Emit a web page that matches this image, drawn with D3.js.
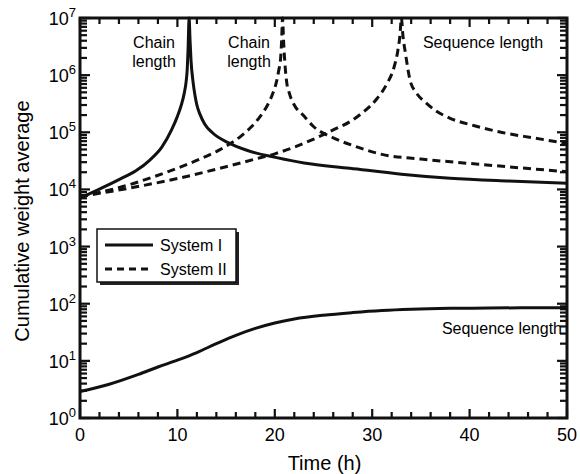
<!DOCTYPE html>
<html>
<head>
<meta charset="utf-8">
<script src="https://cdn.jsdelivr.net/npm/d3@7"></script>
<style>
  body { margin: 0; background: white; }
  svg { display: block; font-family: "Liberation Sans", Arial, sans-serif; }
</style>
</head>
<body>
<div id="chart"></div>
<script>
// [time (h), value]
const chainI = [[0, 7000], [2.2, 10500], [4.2, 15500], [5.7, 21000], [7.2, 33000], [8.4, 55000], [9.4, 110000],
  [10, 190000], [10.4, 300000], [10.7, 480000], [10.9, 780000], [11, 1.2e6], [11.1, 3e6], [11.2, 1e7],
  [11.3, 4e6], [11.4, 1.8e6], [11.6, 780000], [11.8, 450000], [12, 300000], [12.3, 210000], [12.8, 140000],
  [13.6, 98000], [15.2, 66000], [17.2, 48000], [20.2, 36000], [23, 29000], [27.7, 23500], [33, 18500],
  [38, 15700], [44, 14000], [50, 12800]]
const seqI = [[0, 2.9], [3, 3.9], [6, 5.8], [8, 7.8], [10, 10.3], [12, 14], [14, 20], [16, 28], [18, 37],
  [20, 46], [22, 54], [25, 63], [28, 70], [31, 76], [34, 80], [38, 83], [42, 84], [46, 85], [50, 85]]
const chainII = [[0, 7500], [2.5, 9300], [5, 12000], [7.5, 16500], [10, 23500], [12.5, 35000], [14, 46000],
  [15.2, 60000], [16.5, 85000], [17.6, 125000], [18.6, 200000], [19.3, 310000], [19.8, 480000], [20.2, 800000],
  [20.4, 1.2e6], [20.6, 2e6], [20.7, 4e6], [20.8, 1e7], [20.9, 4e6], [21, 2e6], [21.2, 800000], [21.5, 480000],
  [22, 300000], [22.9, 200000], [24, 125000], [26, 80000], [28.5, 55000], [31, 41000], [35, 34000],
  [40, 28500], [45, 24000], [50, 20400]]
const seqII = [[0, 7500], [5, 10500], [10, 15500], [15, 25000], [18, 34000], [20, 42000], [22, 55000],
  [24, 76000], [26, 110000], [27.7, 153000], [29, 220000], [30.5, 390000], [31.5, 700000], [32.2, 1.3e6],
  [32.6, 2.5e6], [32.85, 5e6], [33, 1e7], [33.15, 5e6], [33.4, 2.5e6], [33.9, 800000], [34.5, 500000],
  [35.5, 330000], [36.5, 240000], [38, 176000], [40.5, 130000], [43, 102000], [46.5, 80000], [50, 64000]]

const xTicks = [0, 10, 20, 30, 40, 50]
const yExponents = [0, 1, 2, 3, 4, 5, 6, 7]
const seriesNames = ["System I", "System II"]

const width = 580
const height = 474
const margin = {top: 18, right: 13, bottom: 56, left: 80}
const plotBottom = height - margin.bottom
const plotRight = width - margin.right

const svg = d3.select("#chart").append("svg")
  .attr("width", width)
  .attr("height", height)

const x = d3.scaleLinear().domain([0, 50]).range([margin.left, plotRight])
const y = d3.scaleLog().domain([1, 1e7]).range([plotBottom, margin.top])

const minorX = d3.range(0, 50.01, 2).filter(d => d % 10 !== 0)
const minorY = []
yExponents.slice(0, -1).forEach(e => {
  for (let k = 2; k < 10; k++) minorY.push(k * Math.pow(10, e))
})
const majorY = yExponents.map(e => Math.pow(10, e))

// frame
svg.append("rect")
  .attr("x", margin.left).attr("y", margin.top)
  .attr("width", plotRight - margin.left).attr("height", plotBottom - margin.top)
  .attr("fill", "none").attr("stroke", "#111").attr("stroke-width", 3)

// inward ticks on all four sides, drawn as small filled bars
const xt = [...xTicks.map(v => ({v, len: 9})), ...minorX.map(v => ({v, len: 6}))]
const yt = [...majorY.map(v => ({v, len: 10})), ...minorY.map(v => ({v, len: 7}))]
const tickG = svg.append("g").attr("fill", "#111")
tickG.selectAll("rect.xb").data(xt).join("rect").attr("class", "xb")
  .attr("x", d => x(d.v) - 1.1).attr("width", 2.2)
  .attr("y", d => plotBottom - d.len).attr("height", d => d.len)
tickG.selectAll("rect.xt").data(xt).join("rect").attr("class", "xt")
  .attr("x", d => x(d.v) - 1.1).attr("width", 2.2)
  .attr("y", margin.top).attr("height", d => d.len)
tickG.selectAll("rect.yl").data(yt).join("rect").attr("class", "yl")
  .attr("y", d => y(d.v) - 1.1).attr("height", 2.2)
  .attr("x", margin.left).attr("width", d => d.len)
tickG.selectAll("rect.yr").data(yt).join("rect").attr("class", "yr")
  .attr("y", d => y(d.v) - 1.1).attr("height", 2.2)
  .attr("x", d => plotRight - d.len).attr("width", d => d.len)

// tick labels
svg.selectAll("text.xtick").data(xTicks).join("text")
  .attr("class", "xtick")
  .attr("x", d => x(d)).attr("y", plotBottom + 23)
  .attr("text-anchor", "middle")
  .style("font-size", "18px")
  .text(d => d)

const ylab = svg.selectAll("text.ytick").data(yExponents).join("text")
  .attr("class", "ytick")
  .attr("x", margin.left - 4).attr("y", d => y(Math.pow(10, d)) + 7)
  .attr("text-anchor", "end")
  .style("font-size", "18px")
ylab.append("tspan").text("10")
ylab.append("tspan").attr("dy", -8).style("font-size", "13px").text(d => d)

// axis titles
svg.append("text")
  .attr("x", (margin.left + plotRight) / 2 + 1).attr("y", 470)
  .attr("text-anchor", "middle").style("font-size", "20px")
  .text("Time (h)")
svg.append("text")
  .attr("transform", `translate(29,${(margin.top + plotBottom) / 2 + 3}) rotate(-90)`)
  .attr("text-anchor", "middle").style("font-size", "20px")
  .text("Cumulative weight average")

// curves (the peaks stop at the top of the domain)
const lineGen = d3.line()
  .x(d => x(d[0]))
  .y(d => y(d[1]))
  .curve(d3.curveMonotoneX)

const curves = [
  {data: chainI, dash: null},
  {data: seqI, dash: null},
  {data: chainII, dash: "8,5"},
  {data: seqII, dash: "8,5"}
]
svg.append("g")
  .selectAll("path").data(curves).join("path")
  .attr("d", d => lineGen(d.data))
  .attr("fill", "none")
  .attr("stroke", "#111")
  .attr("stroke-width", 3)
  .attr("stroke-dasharray", d => d.dash)

// annotations
const notes = [
  {text: ["Chain", "length"], x: 154, y: 48, anchor: "middle"},
  {text: ["Chain", "length"], x: 249, y: 48, anchor: "middle"},
  {text: ["Sequence length"], x: 483, y: 48, anchor: "middle"},
  {text: ["Sequence length"], x: 562, y: 334, anchor: "end"}
]
notes.forEach(n => {
  n.text.forEach((t, i) => {
    svg.append("text")
      .attr("x", n.x).attr("y", n.y + i * 19)
      .attr("text-anchor", n.anchor)
      .style("font-size", "16px")
      .text(t)
  })
})

// legend
const legend = svg.append("g")
legend.append("rect")
  .attr("x", 100).attr("y", 232).attr("width", 139).attr("height", 53)
  .attr("fill", "#222")
legend.append("rect")
  .attr("x", 97).attr("y", 229).attr("width", 139).attr("height", 53)
  .attr("fill", "white").attr("stroke", "#111").attr("stroke-width", 1.5)
seriesNames.forEach((name, i) => {
  const ly = 245 + i * 24
  legend.append("line")
    .attr("x1", 105).attr("x2", 153).attr("y1", ly).attr("y2", ly)
    .attr("stroke", "#111").attr("stroke-width", 3)
    .attr("stroke-dasharray", i === 0 ? null : "7,5")
  legend.append("text")
    .attr("x", 160).attr("y", ly + 6)
    .style("font-size", "16px")
    .text(name)
})
</script>
</body>
</html>
